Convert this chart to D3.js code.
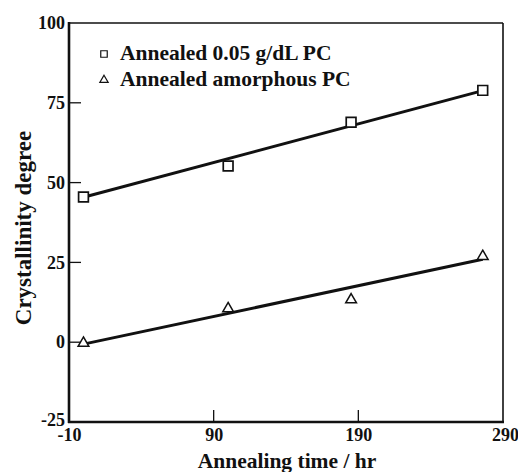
<!DOCTYPE html>
<html>
<head>
<meta charset="utf-8">
<script src="https://cdn.jsdelivr.net/npm/d3@7"></script>
<style>
  body { margin: 0; background: #fff; }
  text { font-family: "Liberation Serif", "DejaVu Serif", serif; fill: #111; }
</style>
</head>
<body>
<svg id="chart" width="518" height="472"></svg>
<script>
// ---- data ----
const annealTime = [0, 100, 185, 276];
const pc005 = [45.5, 55.2, 68.9, 78.9];
const amorphousPC = [-0.3, 10.5, 13.3, 26.9];
const fitPC005 = [[0, 45.4], [276, 78.8]];
const fitAmorphous = [[0, -0.6], [276, 26.0]];
const xTicks = [-10, 90, 190, 290];
const yTicks = [-25, 0, 25, 50, 75, 100];
const seriesNames = ["Annealed 0.05 g/dL PC", "Annealed amorphous PC"];

const svg = d3.select("#chart");
const L = 69, R = 503, T = 23, B = 422;
const x = d3.scaleLinear().domain([-10, 290]).range([L, R]);
const y = d3.scaleLinear().domain([-25, 100]).range([B, T]);
const ink = "#111";
const fmt = d => String(d);

// frame
svg.append("line").attr("x1", L).attr("x2", R).attr("y1", T).attr("y2", T).attr("stroke", ink).attr("stroke-width", 1.6);
svg.append("line").attr("x1", R).attr("x2", R).attr("y1", T).attr("y2", B).attr("stroke", ink).attr("stroke-width", 1.6);
svg.append("line").attr("x1", L).attr("x2", L).attr("y1", T - 1).attr("y2", B + 1).attr("stroke", ink).attr("stroke-width", 2.6);
svg.append("line").attr("x1", L - 1).attr("x2", R + 1).attr("y1", B).attr("y2", B).attr("stroke", ink).attr("stroke-width", 2.6);

// axes
const xAxis = d3.axisBottom(x).tickValues(xTicks).tickSize(0).tickPadding(6).tickFormat(fmt);
const gx = svg.append("g").attr("transform", `translate(0,${B})`).call(xAxis);
gx.select(".domain").remove();
gx.selectAll("text").attr("font-size", 18).attr("font-weight", "bold")
  .style("font-family", "Liberation Serif").attr("fill", ink);
gx.selectAll(".tick").filter(d => d === 290).select("text").attr("dx", 2);
svg.selectAll(".xt").data(xTicks.filter(d => d > -10 && d < 290)).enter().append("line")
  .attr("x1", d => x(d)).attr("x2", d => x(d)).attr("y1", B).attr("y2", B - 12)
  .attr("stroke", ink).attr("stroke-width", 1.3);

const yAxis = d3.axisLeft(y).tickValues(yTicks).tickSize(0).tickPadding(4).tickFormat(fmt);
const gy = svg.append("g").attr("transform", `translate(${L},0)`).call(yAxis);
gy.select(".domain").remove();
gy.selectAll("text").attr("font-size", 18).attr("font-weight", "bold")
  .style("font-family", "Liberation Serif").attr("fill", ink);
gy.selectAll(".tick").filter(d => d === -25).select("text").attr("dy", "0.2em");
svg.selectAll(".yt").data(yTicks.filter(d => d > -25 && d < 100)).enter().append("line")
  .attr("x1", L).attr("x2", L + 12).attr("y1", d => y(d)).attr("y2", d => y(d))
  .attr("stroke", ink).attr("stroke-width", 1.3);

// axis titles
svg.append("text").attr("x", 287).attr("y", 468).attr("text-anchor", "middle")
  .attr("font-size", 21.5).attr("font-weight", "bold").text("Annealing time / hr");
svg.append("text").attr("transform", `translate(31,228) rotate(-90)`).attr("text-anchor", "middle")
  .attr("font-size", 23).attr("font-weight", "bold").text("Crystallinity degree");

// fit lines
const line = d3.line().x(d => x(d[0])).y(d => y(d[1]));
[fitPC005, fitAmorphous].forEach(f => {
  svg.append("path").attr("d", line(f)).attr("fill", "none").attr("stroke", ink).attr("stroke-width", 3);
});

// markers
const sq = d3.symbol().type(d3.symbolSquare).size(95);
const tri = d3.symbol().type(d3.symbolTriangle).size(50);
svg.selectAll(".sq").data(annealTime.map((t, i) => [t, pc005[i]])).enter().append("path")
  .attr("d", sq).attr("transform", d => `translate(${x(d[0])},${y(d[1])})`)
  .attr("fill", "#fff").attr("stroke", ink).attr("stroke-width", 1.7);
svg.selectAll(".tri").data(annealTime.map((t, i) => [t, amorphousPC[i]])).enter().append("path")
  .attr("d", tri).attr("transform", d => `translate(${x(d[0])},${y(d[1])})`)
  .attr("fill", "#fff").attr("stroke", ink).attr("stroke-width", 1.5);

// legend
const legY = [60, 86];
const legSyms = [d3.symbol().type(d3.symbolSquare).size(42), d3.symbol().type(d3.symbolTriangle).size(30)];
seriesNames.forEach((name, i) => {
  svg.append("path").attr("d", legSyms[i]()).attr("transform", `translate(104,${legY[i] - 6})`)
    .attr("fill", "#fff").attr("stroke", ink).attr("stroke-width", 1.2);
  svg.append("text").attr("x", 120).attr("y", legY[i]).attr("font-size", 21.5)
    .attr("font-weight", "bold").text(name);
});
</script>
</body>
</html>
